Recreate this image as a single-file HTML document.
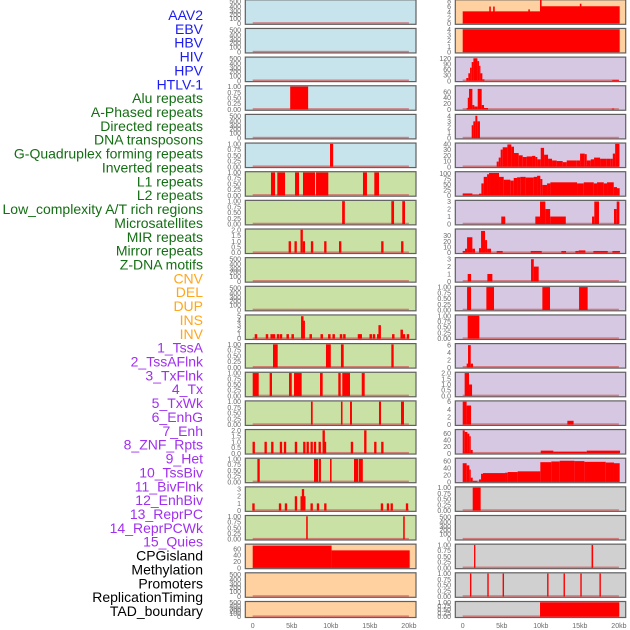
<!DOCTYPE html>
<html><head><meta charset="utf-8">
<style>
html,body{margin:0;padding:0;background:#fff;}
svg{display:block;font-family:"Liberation Sans",sans-serif;}
</style></head>
<body>
<svg id="chart" width="630" height="630" viewBox="0 0 630 630" xmlns="http://www.w3.org/2000/svg"></svg>
<script>
// ---- data ----
const trackLabels=["AAV2","EBV","HBV","HIV","HPV","HTLV-1","Alu repeats","A-Phased repeats","Directed repeats","DNA transposons","G-Quadruplex forming repeats","Inverted repeats","L1 repeats","L2 repeats","Low_complexity A/T rich regions","Microsatellites","MIR repeats","Mirror repeats","Z-DNA motifs","CNV","DEL","DUP","INS","INV","1_TssA","2_TssAFlnk","3_TxFlnk","4_Tx","5_TxWk","6_EnhG","7_Enh","8_ZNF_Rpts","9_Het","10_TssBiv","11_BivFlnk","12_EnhBiv","13_ReprPC","14_ReprPCWk","15_Quies","CPGisland","Methylation","Promoters","ReplicationTiming","TAD_boundary"];
const labelGroups=["virus","virus","virus","virus","virus","virus","repeat","repeat","repeat","repeat","repeat","repeat","repeat","repeat","repeat","repeat","repeat","repeat","repeat","sv","sv","sv","sv","sv","chrom","chrom","chrom","chrom","chrom","chrom","chrom","chrom","chrom","chrom","chrom","chrom","chrom","chrom","chrom","other","other","other","other","other"];
const xTickVals=[0,5,10,15,20];
const xTickLabels=["0","5kb","10kb","15kb","20kb"];

const tick01=[0,0.25,0.5,0.75,1], tick01Lab=["0.00","0.25","0.50","0.75","1.00"];
const tick2=[0,0.5,1,1.5,2], tick2Lab=["0.0","0.5","1.0","1.5","2.0"];
const tickEmpty=[0,100,200,300,400,500];

// left column bars [startKb,endKb,value]
const leftAlu=[[4.8,7.1,1]];
const leftGQuad=[[9.9,10.3,1]];
const leftL1=[[2.34,2.86,1],[3.15,4.14,1],[5.42,5.93,1],[6.44,7.98,1],[8.11,9.68,1],[14.12,14.63,1],[15.57,16.17,1]];
const leftL2=[[11.45,11.8,1],[17.75,18.1,1],[19.15,19.5,1]];
const leftMIR=[[4.6,4.9,1],[5.35,5.65,1],[6.12,6.42,2],[6.42,6.7,1],[7.45,7.75,1],[9.15,9.45,1],[11.05,11.35,1],[16.45,16.75,1],[19.0,19.3,1]];
const leftINSpos=[0.42,1.83,2.43,2.73,3.24,3.62,4.48,5.12,6.35,6.53,7.43,8.84,9.81,10.37,11.31,11.74,13.61,13.83,15.11,15.53,16.08,16.26,18.0,19.08,19.37,19.88];
const leftINSval=[1,1,1,1,1,1,1,1,5,4,1,1,1,1,1,1,1,1,1,1,1,3,1,2,1,1];
const leftTssA=[[2.6,3.2,1],[9.38,10.0,1],[11.3,11.65,1],[17.75,18.05,1]];
const leftTssAFlnk=[[0,0.77,1],[2.17,2.47,1],[4.65,5.0,1],[5.29,6.27,1],[8.62,8.96,1],[10.96,11.27,1],[11.47,12.46,1],[13.96,14.34,1]];
const leftTxFlnk=[[7.46,7.68,1],[11.3,11.5,1],[12.46,12.71,1],[16.17,16.43,1],[18.99,19.37,1]];
const leftTxPos=[0.13,1.66,2.51,3.62,4.14,5.54,6.61,7.04,7.55,7.98,8.58,9.09,9.26,12.71,14.42,15.7,16.6];
const leftTxVal=[1,1,1,1,1,1,1,1,1,1,1,2,1,1,2,1,1];
const leftTxWk=[[0.6,0.9,1],[7.85,8.4,1],[8.49,8.74,1],[9.9,10.1,1],[12.97,13.52,1],[13.6,14.1,1]];
const leftEnhPos=[0.1,3.5,4.26,5.54,6.27,6.44,6.61,7.55,8.36,9.3,16.55,17.32,17.8,19.76];
const leftEnhVal=[1,1,1,2,2,3,2,1,1,1,1,1,1,1];
const leftZnf=[[6.85,7.05,1],[19.27,19.47,1]];
const leftCpg=[[0,10.1,70],[10.1,20.1,55]];

// right column
const rightAav=[[0,9.9,4.3],[9.9,20.1,6.1],[3.4,3.6,6],[3.9,4.1,6],[8.4,8.6,5],[9.9,10.1,8.5],[15.0,15.2,7]];
const rightEbv=[[0,20.1,4]];
const rightHivEdges=[0.46,0.72,0.94,1.15,1.37,1.88,2.1,2.27,2.52,2.78];
const rightHivVals=[15,40,70,100,120,105,80,40,8];
const rightHivTail=[[19.15,20.0,5]];
const rightHpvEdges=[0.51,0.65,0.81,1.24,1.49,1.92,2.43,2.73,3.24];
const rightHpvVals=[5,40,70,15,10,70,15,5];
const rightHpvTail=[[19.1,19.4,3]];
const rightAluEdges=[1.15,1.36,1.62,1.87,2.21];
const rightAluVals=[2.3,3,4,3];
const rightAphEdges=[4.35,4.61,4.86,5.12,5.72,6.23,6.57,7.17,7.68,8.19,8.88,9.3,9.56,9.99,10.42,10.93,11.44,12.04,12.8,13.32,14.6,15.03,15.62,15.88,16.4,16.82,17.59,18.45,18.96,19.22,19.52,20.07];
const rightAphVals=[9,16,30,34,39,35,24,20,17,18,19,17,13,33,21,14,11,10,8,11,11,23,22,11,13,16,14,14,14,23,40];
const rightL1Edges=[0,1.24,2.09,2.39,2.69,3.12,3.37,4.65,5.25,6.1,6.53,6.96,7.38,8.06,9.09,9.52,9.94,10.2,10.8,11.23,14.64,15.5,16.78,17.2,18.06,18.48,19.34,19.76,20.1];
const rightL1Vals=[9,3,8,55,85,97,103,85,72,68,80,83,85,82,85,90,75,48,55,60,55,60,55,60,55,60,38,33];
const rightDirected=[[4.94,5.45,1],[9.3,9.9,1],[9.9,10.58,3],[10.58,11.2,2],[11.2,13.2,1],[16.56,16.85,1],[16.85,17.45,3],[19.37,19.72,2],[19.72,20.06,3]];
const rightDnaT=[[0,0.3,3],[0.3,0.56,7],[0.56,1.24,27],[1.24,1.58,7],[2.09,2.35,8],[2.35,2.86,38],[2.86,3.12,22],[3.12,3.63,7],[4.35,5.12,3],[8.71,10.12,3],[12.63,13.23,3],[14.43,14.85,3],[14.85,15.71,4],[16.73,18.57,3],[19.17,20.15,3]];
const rightGQuad=[[0.64,1.07,1],[3.16,3.8,1],[8.75,9.1,3],[9.1,9.73,2]];
const rightDel=[[0.56,1.07,1],[3.03,4.01,1],[10.2,11.18,1],[14.9,16.0,1]];
const rightDup=[[0.64,2.13,1]];
const rightIns=[[0.51,0.68,1],[0.68,1.03,6],[1.03,1.32,1]];
const rightInv=[[0.25,0.81,2],[0.81,1.2,1]];
const rightTssA=[[0,0.5,6],[0.5,1.07,5],[13.4,14.2,1]];
const rightTssAFlnk=[[0,0.26,70],[0.26,0.6,65],[0.6,0.85,60],[0.85,1.03,52],[1.03,1.28,10],[9.99,11.61,8],[11.61,15.88,5],[15.88,20.15,8]];
const rightTxEdges=[0,0.51,0.85,1.03,1.28,1.88,2.09,2.35,2.6,5.42,5.76,7.04,9.94,11.35,12.42,14.3,15.58,18.31,19.37,20.1];
const rightTxVals=[53,47,35,12,3,0,7,23,25,26,28,30,56,58,60,59,57,55,53];
const rightTx=[[1.28,2.3,1]];
const rightEnhG=[[1.45,1.62,1],[16.5,16.7,1]];
const rightEnh=[[0.93,1.11,1],[3.15,3.33,1],[5.11,5.29,1],[10.81,10.99,1],[12.91,13.09,1],[15.06,15.24,1],[17.51,17.69,1]];
const rightZnf=[[9.9,20.05,1]];

// ---- rendering ----
const svg=document.getElementById('chart');
const NS='http://www.w3.org/2000/svg';
function mk(tag,attrs,parent){const e=document.createElementNS(NS,tag);for(const k in attrs)e.setAttribute(k,attrs[k]);(parent||svg).appendChild(e);return e;}
const labelColors={virus:'#1c1cf0',repeat:'#146e14',sv:'#ffa61c',chrom:'#a030ee',other:'#000000'};
const bgs={blue:'#c7e3eb',green:'#c9e1a5',peach:'#ffd1a0',lav:'#d6c8e3',gray:'#d0d0d0'};
const emptyFrac=[0,0.22,0.4,0.55,0.75,0.97];

// labels
const visibleLabels=trackLabels.filter((_,i)=>i!==9||true);
const showLabels=["AAV2","EBV","HBV","HIV","HPV","HTLV-1","Alu repeats","A-Phased repeats","Directed repeats","DNA transposons","G-Quadruplex forming repeats","Inverted repeats","L1 repeats","L2 repeats","Low_complexity A/T rich regions","Microsatellites","MIR repeats","Mirror repeats","Z-DNA motifs","CNV","DEL","DUP","INS","INV","1_TssA","2_TssAFlnk","3_TxFlnk","4_Tx","5_TxWk","6_EnhG","7_Enh","8_ZNF_Rpts","9_Het","10_TssBiv","11_BivFlnk","12_EnhBiv","13_ReprPC","14_ReprPCWk","15_Quies","CPGisland","Methylation","Promoters","ReplicationTiming","TAD_boundary"];
const n=showLabels.length;
showLabels.forEach((t,i)=>{
  const g=labelGroups[trackLabels.indexOf(t)];
  const y=15+i*(596/(n-1));
  const el=mk('text',{x:203,y:y+5,'text-anchor':'end','font-size':14,fill:labelColors[g]});
  el.textContent=t;
  
  
});

function panelGeom(i){return i<21?{top:i*28.65-0.2,h:24.5}:{top:601.5,h:16};}
const cols={left:{px:245.3,pw:170.7,x0:252.7,tx:241},right:{px:455.3,pw:170.4,x0:462.7,tx:451}};
const K=7.81;

function drawPanel(col,i,bg,name,ticks,tickLab,ymax,bars){
  const c=cols[col],g=panelGeom(i);
  const grp=mk('g',{});
  
  
  const r=mk('rect',{x:c.px,y:g.top,width:c.pw,height:g.h,fill:bgs[bg],stroke:'#606060','stroke-width':1.2},grp);
  
  
  const yb=g.top+g.h-0.8, yt=g.top+0.8;
  const xs=kb=>c.x0+kb*K;
  const ys=v=>yb-(v/ymax)*(yb-yt);
  const empty=!ticks;
  const tv=empty?tickEmpty:ticks;
  tv.forEach((v,j)=>{
    const y=empty?yb-emptyFrac[j]*(yb-yt):ys(v);
    const t=mk('text',{x:c.tx,y:y+2.5,'text-anchor':'end','font-size':7,fill:'#6a6a6a'},grp);
    t.textContent=empty?String(v):tickLab[j];
    
    
  });
  const bl=mk('rect',{x:xs(0),y:yb-1.3,width:20*K,height:1.6,fill:'#d06060',opacity:0.75},grp);
  
  
  (bars||[]).forEach(b=>{
    const x1=xs(b[0]),x2=xs(b[1]);
    const y=ys(b[2]);
    const br=mk('rect',{x:x1,y:y,width:Math.max(1.2,x2-x1),height:Math.max(0,yb-y),fill:'#ff0000'},grp);
    
    
  });
}
function steps(edges,vals){const out=[];for(let i=0;i<vals.length;i++)out.push([edges[i],edges[i+1],vals[i]]);return out;}
function spikes(pos,vals,w){return pos.map((p,i)=>[p-w/2,p+w/2,vals[i]]);}

// left column
drawPanel('left',0,'blue','aav2',null,null,1,[]);
drawPanel('left',1,'blue','ebv',null,null,1,[]);
drawPanel('left',2,'blue','hbv',null,null,1,[]);
drawPanel('left',3,'blue','alu',tick01,tick01Lab,1,leftAlu);
drawPanel('left',4,'blue','hpv',null,null,1,[]);
drawPanel('left',5,'blue','gquad',tick01,tick01Lab,1,leftGQuad);
drawPanel('left',6,'green','l1',tick01,tick01Lab,1,leftL1);
drawPanel('left',7,'green','l2',tick01,tick01Lab,1,leftL2);
drawPanel('left',8,'green','mir',tick2,tick2Lab,2,leftMIR);
drawPanel('left',9,'green','empty-a',null,null,1,[]);
drawPanel('left',10,'green','empty-b',null,null,1,[]);
drawPanel('left',11,'green','ins',[0,1,2,3,4,5],["0","1","2","3","4","5"],5.1,spikes(leftINSpos,leftINSval,0.32));
drawPanel('left',12,'green','tssa',tick01,tick01Lab,1,leftTssA);
drawPanel('left',13,'green','tssaflnk',tick01,tick01Lab,1,leftTssAFlnk);
drawPanel('left',14,'green','txflnk',tick01,tick01Lab,1,leftTxFlnk);
drawPanel('left',15,'green','tx',tick2,tick2Lab,2,spikes(leftTxPos,leftTxVal,0.3));
drawPanel('left',16,'green','txwk',tick01,tick01Lab,1,leftTxWk);
drawPanel('left',17,'green','enh',[0,1,2,3],["0","1","2","3"],3.2,spikes(leftEnhPos,leftEnhVal,0.3));
drawPanel('left',18,'green','znf',tick01,tick01Lab,1,leftZnf);
drawPanel('left',19,'peach','cpg',[0,20,40,60],["0","20","40","60"],72,leftCpg);
drawPanel('left',20,'peach','promoters',null,null,1,[]);
drawPanel('left',21,'peach','tad',null,null,1,[]);

// right column
drawPanel('right',0,'peach','aav2',[0,2,4,6,8],["0","2","4","6","8"],8.1,rightAav);
drawPanel('right',1,'peach','ebv',[0,1,2,3,4],["0","1","2","3","4"],4,rightEbv);
drawPanel('right',2,'lav','hiv',[0,30,60,90,120],["0","30","60","90","120"],122,steps(rightHivEdges,rightHivVals).concat(rightHivTail));
drawPanel('right',3,'lav','hpv',[0,20,40,60],["0","20","40","60"],78,steps(rightHpvEdges,rightHpvVals).concat(rightHpvTail));
drawPanel('right',4,'lav','alu',[0,1,2,3,4],["0","1","2","3","4"],4.1,steps(rightAluEdges,rightAluVals));
drawPanel('right',5,'lav','aphased',[0,10,20,30,40],["0","10","20","30","40"],40,steps(rightAphEdges,rightAphVals));
drawPanel('right',6,'lav','l1',[0,25,50,75,100],["0","25","50","75","100"],105,steps(rightL1Edges,rightL1Vals));
drawPanel('right',7,'lav','directed',[0,1,2,3],["0","1","2","3"],3.05,rightDirected);
drawPanel('right',8,'lav','dna-transposons',[0,10,20,30],["0","10","20","30"],40,rightDnaT);
drawPanel('right',9,'lav','gquad',[0,1,2,3],["0","1","2","3"],3.1,rightGQuad);
drawPanel('right',10,'lav','del',tick01,tick01Lab,1,rightDel);
drawPanel('right',11,'lav','dup',tick01,tick01Lab,1,rightDup);
drawPanel('right',12,'lav','ins',[0,2,4,6],["0","2","4","6"],6.2,rightIns);
drawPanel('right',13,'lav','inv',tick2,tick2Lab,2,rightInv);
drawPanel('right',14,'lav','tssa',[0,2,4,6],["0","2","4","6"],6,rightTssA);
drawPanel('right',15,'lav','tssaflnk',[0,20,40,60],["0","20","40","60"],70,rightTssAFlnk);
drawPanel('right',16,'lav','txflnk',[0,20,40,60],["0","20","40","60"],65,steps(rightTxEdges,rightTxVals));
drawPanel('right',17,'gray','tx',tick01,tick01Lab,1,rightTx);
drawPanel('right',18,'gray','empty',null,null,1,[]);
drawPanel('right',19,'gray','enhg',tick01,tick01Lab,1,rightEnhG);
drawPanel('right',20,'gray','enh',tick01,tick01Lab,1,rightEnh);
drawPanel('right',21,'gray','znf',tick01,tick01Lab,1,rightZnf);

// x axes
['left','right'].forEach(col=>{
  const c=cols[col];
  xTickVals.forEach((v,j)=>{
    const t=mk('text',{x:c.x0+v*K,y:628,'text-anchor':'middle','font-size':7,fill:'#6a6a6a'});
    t.textContent=xTickLabels[j];
    
    
  });
});
</script>
</body></html>
